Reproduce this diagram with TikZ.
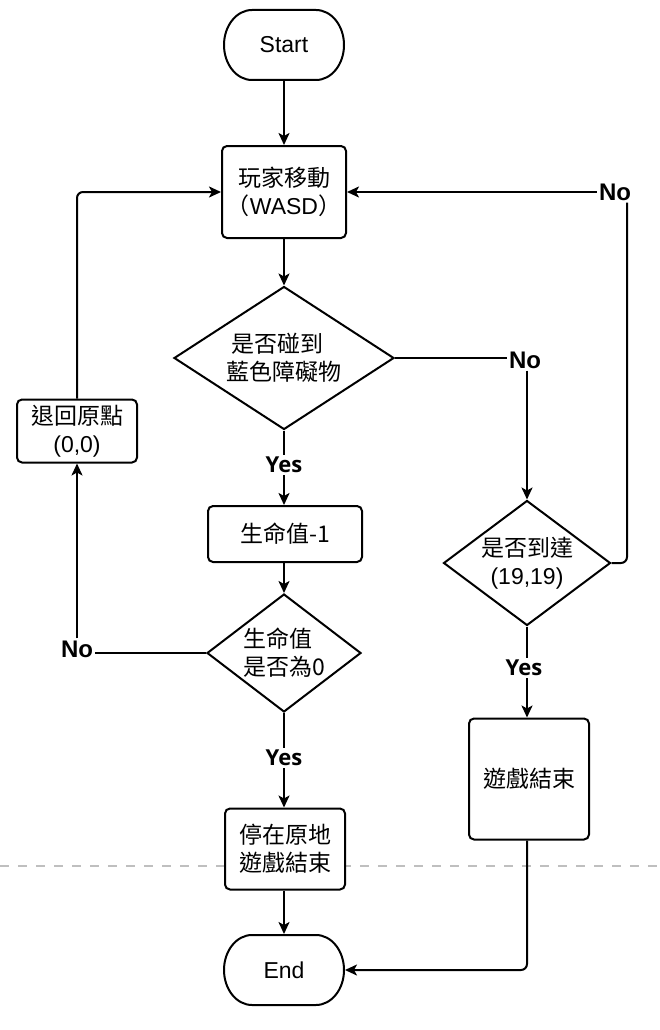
\documentclass[tikz,border=0pt]{standalone}
\usepackage{fontspec}
\setmainfont{Liberation Sans}
\newfontfamily\cjk{Noto Sans CJK TC}
\newfontfamily\yesfont{Open Sans}
\usetikzlibrary{shapes.geometric,arrows.meta,calc}

% outline of a terminal (start/end) shape with elliptic ends
\newcommand\termoutline[1]{%
  \draw[line width=2pt] ($(#1.center)+(-32,-35)$) -- ($(#1.center)+(32,-35)$)
    arc[start angle=90,end angle=-90,x radius=28pt,y radius=35pt]
    -- ($(#1.center)+(-32,35)$)
    arc[start angle=270,end angle=90,x radius=28pt,y radius=35pt] -- cycle;}

\tikzset{
  txt/.style={font=\fontsize{23}{28}\selectfont},
  term/.style={txt, draw=none, minimum width=120pt, minimum height=70pt, inner sep=0pt, outer sep=1pt},
  proc/.style={txt, draw, line width=2pt, rounded corners=5pt, fill=white, align=center, inner sep=0pt},
  dec/.style={txt, diamond, draw, line width=2pt, fill=white, align=center, inner sep=0pt},
  yeslbl/.style={font=\fontsize{22}{26}\selectfont\yesfont\bfseries, inner sep=2pt},
  nolbl/.style={font=\fontsize{24}{26}\selectfont\bfseries, inner sep=2pt},
  conn/.style={line width=2pt},
  arr/.style={conn, -{Stealth[length=12pt,width=11pt,inset=3pt]}},
}

\begin{document}
\begin{tikzpicture}[x=1pt,y=-1pt]
\useasboundingbox (0,0) rectangle (660,1030);

% separator line in the background
\draw[black!25, line width=1.5pt, dash pattern=on 9pt off 9pt] (0,866) -- (660,866);

% main column
\node[term] (start) at (284,45) {Start};
\termoutline{start}
\node[proc, minimum width=124pt, minimum height=92pt] (move) at (284,192)
  {{\cjk 玩家移動}\\{\cjk （}WASD{\cjk ）}};
\node[dec, aspect=1.54, minimum width=220pt, minimum height=143pt] (hit) at (284,358)
  {\cjk 是否碰到\makebox[0.6em]{}\\\cjk 藍色障礙物};
\node[yeslbl] (yes1) at (284,465) {Yes};
\node[proc, minimum width=154pt, minimum height=56pt] (life) at (285,534) {\cjk 生命值-1};
\node[dec, aspect=1.3, minimum width=154pt, minimum height=118pt, align=left] (zero) at (284,653)
  {\cjk 生命值\\\cjk 是否為0};
\node[yeslbl] (yes2) at (284,758) {Yes};
\node[proc, minimum width=120pt, minimum height=81pt] (stop) at (285,849)
  {\cjk 停在原地\\\cjk 遊戲結束};
\node[term] (end) at (284,970) {End};
\termoutline{end}

% left branch
\node[proc, minimum width=120pt, minimum height=63pt] (back) at (77,431)
  {{\cjk 退回原點}\\(0,0)};
\node[nolbl] (no3) at (77,649) {No};

% right branch
\node[nolbl] (no1) at (525,360) {No};
\node[dec, aspect=1.34, minimum width=167pt, minimum height=125pt] (goal) at (527,563)
  {{\cjk 是否到達}\\(19,19)};
\node[nolbl] (no2) at (615,192) {No};
\coordinate (rturn) at (627,563);
\node[yeslbl] (yes3) at (524,668) {Yes};
\node[proc, minimum width=120pt, minimum height=121pt] (over) at (529,779) {\cjk 遊戲結束};

% connectors
\draw[arr] (start.south) -- (move.north);
\draw[arr] (move.south) -- (hit.north);
\draw[conn] (hit.south) -- (yes1.north);
\draw[arr] (yes1.south) -- (yes1.south |- life.north);
\draw[arr] (life.south) -- (life.south -| zero.north) -- (zero.north);
\draw[conn] (zero.south) -- (yes2.north);
\draw[arr] (yes2.south) -- (yes2.south |- stop.north);
\draw[arr] (stop.south -| end.north) -- (end.north);

\draw[conn] (zero.west) -- (zero.west -| no3.east);
\draw[arr] (no3.north) -- (back.south);
\draw[arr, rounded corners=6pt] (back.north) |- (move.west);

\draw[conn] (hit.east) -- (hit.east -| no1.west);
\draw[arr] (no1.south -| goal.north) -- (goal.north);
\draw[conn, rounded corners=6pt] (goal.east) -- (rturn) -- (rturn |- no2.south);
\draw[arr] (no2.west) -- (move.east);
\draw[conn] (goal.south) -- (goal.south |- yes3.north);
\draw[arr] (goal.south |- yes3.south) -- (over.north -| goal.south);
\draw[arr, rounded corners=6pt] (over.south -| goal.south) |- (end.east);
\end{tikzpicture}
\end{document}
